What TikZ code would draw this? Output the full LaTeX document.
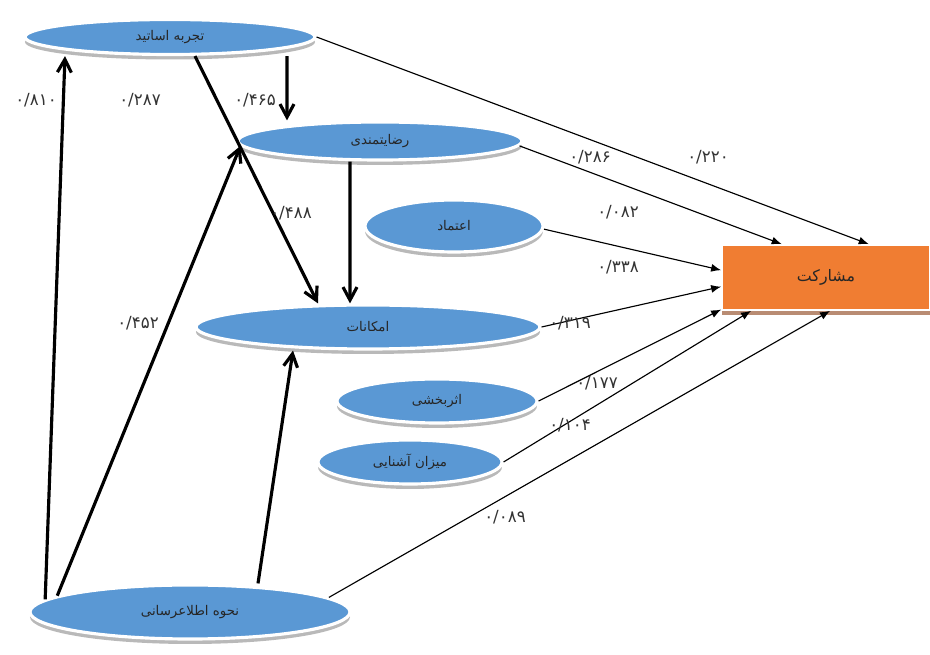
\documentclass[tikz,border=0pt]{standalone}
\usepackage{fontspec}
\newfontfamily\arabicfont[Script=Arabic]{DejaVu Sans}
\newfontfamily\digitfont{DejaVu Sans}
\TeXXeTstate=1
\usetikzlibrary{shapes.geometric,arrows.meta,shadows}

\definecolor{ellblue}{RGB}{90,152,212}
\definecolor{boxorange}{RGB}{240,125,50}
\definecolor{boxbrown}{RGB}{185,140,115}

\tikzset{
  factor/.style={ellipse, fill=ellblue, draw=white, line width=1.8pt, inner sep=0pt,
    drop shadow={shadow xshift=0pt, shadow yshift=-1mm, fill=gray!55, opacity=1},
    text=black!85, font=\arabicfont\fontsize{7.6}{9}\selectfont},
  target/.style={rectangle, fill=boxorange, draw=white, line width=1pt, inner sep=0pt,
    drop shadow={shadow xshift=0pt, shadow yshift=-1mm, fill=boxbrown, opacity=1},
    text=black!85, font=\arabicfont\fontsize{9}{10}\selectfont},
  coef/.style={font=\digitfont\fontsize{9.5}{11}\selectfont, text=black!80, inner sep=0pt},
  strong/.style={line width=1.8pt, -{Straight Barb[length=2.6mm,width=2.8mm]}},
  weak/.style={line width=0.65pt, -{Latex[length=2mm,width=1.6mm]}},
}

\begin{document}
\begin{tikzpicture}[x=0.2mm,y=-0.2mm]
\useasboundingbox (0,0) rectangle (930,655);

% factors
\node[factor, minimum width=58mm,   minimum height=7mm]    (tajrobe) at (170,37)  {\beginR تجربه اساتید\endR};
\node[factor, minimum width=56.8mm, minimum height=7.6mm]  (reza)    at (380,141) {\beginR رضایتمندی\endR};
\node[factor, minimum width=35.6mm, minimum height=10.4mm] (etemad)  at (454,226) {\beginR اعتماد\endR};
\node[factor, minimum width=68.8mm, minimum height=8.8mm]  (emkanat) at (368,327) {\beginR امکانات\endR};
\node[factor, minimum width=40mm,   minimum height=8.8mm]  (asar)    at (437,401) {\beginR اثربخشی\endR};
\node[factor, minimum width=36.8mm, minimum height=8.8mm]  (mizan)   at (410,462) {\beginR میزان آشنایی\endR};
\node[factor, minimum width=64mm,   minimum height=10.8mm] (nahve)   at (190,612) {\beginR نحوه اطلاعرسانی\endR};

% dependent variable
\node[target, minimum width=41.6mm, minimum height=13mm] (musharekat) at (826,277.5) {\beginR مشارکت\endR};

% thick paths
\draw[strong] (nahve.175) -- ([xshift=-21mm]tajrobe.south);
\draw[strong] (nahve.173) -- (reza.182);
\draw[strong] ([xshift=13.6mm]nahve.north) -- ([xshift=-15mm]emkanat.south);
\draw[strong] ([xshift=5mm]tajrobe.south) -- ([xshift=-10mm]emkanat.north);
\draw[strong] ([xshift=23.4mm]tajrobe.south) -- ([xshift=-18.6mm]reza.north);
\draw[strong] ([xshift=-6mm]reza.south) -- ([xshift=-3.6mm]emkanat.north);

% thin paths to musharekat
\draw[weak] (tajrobe.east) -- (musharekat.38);
\draw[weak] (reza.358) -- (musharekat.143);
\draw[weak] (etemad.358) -- (musharekat.176);
\draw[weak] (emkanat.east) -- (musharekat.185);
\draw[weak] (asar.east) -- (musharekat.197);
\draw[weak] (mizan.east) -- (musharekat.204);
\draw[weak] (nahve.6) -- (musharekat.277);

% coefficients
\node[coef] (c810) at (36,100)  {۰/۸۱۰};
\node[coef] (c287) at (140,100) {۰/۲۸۷};
\node[coef] (c465) at (255,100) {۰/۴۶۵};
\node[coef] (c488) at (291,213) {۰/۴۸۸};
\node[coef] (c452) at (138,323) {۰/۴۵۲};
\node[coef] (c286) at (590,157) {۰/۲۸۶};
\node[coef] (c220) at (708,157) {۰/۲۲۰};
\node[coef] (c082) at (618,212) {۰/۰۸۲};
\node[coef] (c338) at (618,267) {۰/۳۳۸};
\node[coef] (c319) at (570,323) {۰/۳۱۹};
\node[coef] (c177) at (597,383) {۰/۱۷۷};
\node[coef] (c104) at (570,425) {۰/۱۰۴};
\node[coef] (c089) at (505,517) {۰/۰۸۹};
\end{tikzpicture}
\end{document}
